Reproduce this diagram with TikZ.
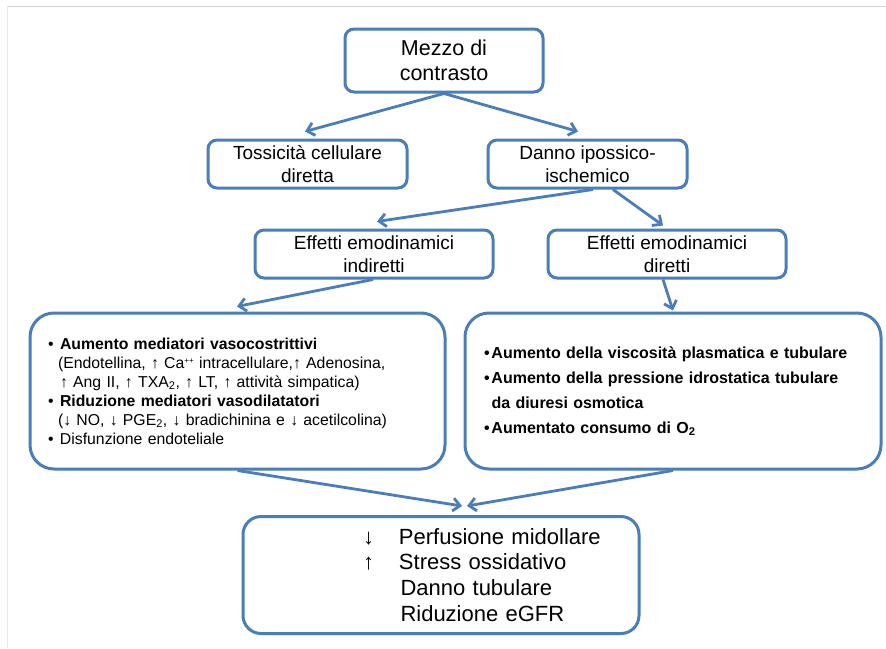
\documentclass[tikz,border=0pt]{standalone}
\usepackage{fontspec}
\setmainfont{Liberation Sans}
\usepackage{xcolor}
\usepackage{tikz}
\usetikzlibrary{arrows.meta}
\definecolor{boxblue}{HTML}{4A7EBB}

\begin{document}
\begin{tikzpicture}[x=1pt,y=-1pt,
  box/.style={draw=boxblue, line width=3pt, rounded corners=9pt, inner sep=0pt, align=center},
  bigbox/.style={draw=boxblue, line width=3pt, rounded corners=24pt, inner ysep=0pt},
  arr/.style={draw=boxblue, line width=2.8pt, -{Straight Barb[length=7pt,width=13pt]}}]
\useasboundingbox (0,0) rectangle (886,648);
\fill[white] (0,0) rectangle (886,648);
\draw[gray!35, line width=1.8pt] (7,6.5) -- (886,6.5);
\draw[gray!18, line width=1.8pt] (7.5,6) -- (7.5,648);

    \node[box, minimum width=198pt, minimum height=63pt, font=\fontsize{21.5}{25}\selectfont] (mezzo) at (444,60.5) {Mezzo di\\contrasto};

    \node[box, minimum width=199pt, minimum height=48pt, font=\fontsize{19}{22.7}\selectfont] (toss) at (307.5,164) {Tossicità cellulare\\diretta};
    \node[box, minimum width=199pt, minimum height=48pt, font=\fontsize{19}{22.7}\selectfont] (danno) at (587.5,164) {Danno ipossico-\\ischemico};

    \node[box, minimum width=238pt, minimum height=48pt, font=\fontsize{19}{22.7}\selectfont] (ind) at (374,254) {Effetti emodinamici\\indiretti};
    \node[box, minimum width=238pt, minimum height=48pt, font=\fontsize{19}{22.7}\selectfont] (dir) at (667,254) {Effetti emodinamici\\diretti};

    \node[bigbox, minimum width=415pt, minimum height=156pt, inner xsep=18pt, text width=379pt, align=left, font=\fontsize{15.8}{19}\selectfont] (lbox) at (237.5,391) {%
\makebox[12pt][l]{\textbullet}\textbf{Aumento mediatori vasocostrittivi}\\
\hspace*{10pt}(Endotellina, ↑ Ca\raisebox{0.55ex}{\fontsize{8}{8}\selectfont ++} intracellulare,↑ Adenosina,\\
\hspace*{12pt}↑ Ang II, ↑ TXA\textsubscript{2}, ↑ LT, ↑ attività simpatica)\\
\makebox[12pt][l]{\textbullet}\textbf{Riduzione mediatori vasodilatatori}\\
\hspace*{10pt}(↓ NO, ↓ PGE\textsubscript{2}, ↓ bradichinina e ↓ acetilcolina)\\
\makebox[12pt][l]{\textbullet}Disfunzione endoteliale};

    \node[bigbox, minimum width=416pt, minimum height=156pt, inner xsep=19pt, text width=378pt, align=left, font=\bfseries\fontsize{16}{25}\selectfont] (rbox) at (673,391) {%
\makebox[7.5pt][l]{\textbullet}Aumento della viscosità plasmatica e tubulare\\
\makebox[7.5pt][l]{\textbullet}Aumento della pressione idrostatica tubulare\\
\hspace*{7.5pt}da diuresi osmotica\\
\makebox[7.5pt][l]{\textbullet}Aumentato consumo di O\textsubscript{2}};

    \node[box, rounded corners=18pt, minimum width=396pt, minimum height=117pt, text width=396pt, align=left, font=\fontsize{22}{25.8}\selectfont] (bot) at (441,575) {%
\hspace*{120pt}\makebox[36pt][l]{↓}Perfusione midollare\\
\hspace*{120pt}\makebox[36pt][l]{↑}Stress ossidativo\\
\hspace*{157.5pt}Danno tubulare\\
\hspace*{157.5pt}Riduzione eGFR};

    % draw the arrows
    \draw[arr] (mezzo.south) -- ([xshift=-2.5pt,yshift=7pt]toss.north);
    \draw[arr] (mezzo.south) -- ([xshift=-9.5pt,yshift=7pt]danno.north);
    \draw[arr] ([xshift=5.5pt]danno.south) -- ([xshift=3pt,yshift=7pt]ind.north);
    \draw[arr] ([xshift=25.5pt]danno.south) -- ([xshift=-4pt,yshift=3pt]dir.north);
    \draw[arr] ([xshift=-1pt]ind.south) -- ([xshift=-0.5pt,yshift=5pt]lbox.north);
    \draw[arr] ([xshift=-4pt]dir.south) -- ([yshift=1pt]rbox.north);
    \draw[arr] (lbox.south) -- ([xshift=21pt,yshift=9pt]bot.north);
    \draw[arr] (rbox.south) -- ([xshift=26pt,yshift=9pt]bot.north);

\end{tikzpicture}
\end{document}
